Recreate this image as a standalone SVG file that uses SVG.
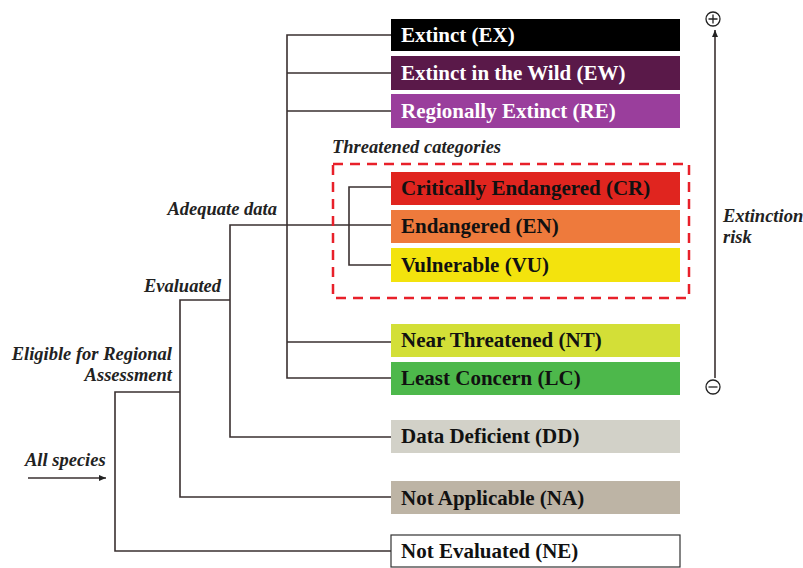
<svg xmlns="http://www.w3.org/2000/svg" width="803" height="568" viewBox="0 0 803 568">
<defs>
<style>
.lbl{font-family:"Liberation Serif",serif;font-weight:bold;font-size:21px}
.w{fill:#ffffff}
.k{fill:#111111}
.it{font-family:"Liberation Serif",serif;font-weight:bold;font-style:italic;font-size:18.5px;fill:#222}
.ln{stroke:#3a3030;stroke-width:1.6;fill:none}
</style>
<marker id="ah" markerWidth="8" markerHeight="8" refX="7" refY="4" orient="auto" markerUnits="userSpaceOnUse">
<path d="M0,1 L7,4 L0,7 z" fill="#222"/>
</marker>
</defs>
<rect width="803" height="568" fill="#ffffff"/>
<g id="connectors">
<path class="ln" d="M28,478 L106,478" marker-end="url(#ah)"/>
<path class="ln" d="M391,551 H115 V392 H180"/>
<path class="ln" d="M391,497 H180 V300 H230"/>
<path class="ln" d="M391,437 H230 V225 H391"/>
<path class="ln" d="M391,35 H287 V378 H391"/>
<path class="ln" d="M287,73 H391 M287,111 H391 M287,342 H391"/>
<path class="ln" d="M391,187 H349 V265 H391"/>
<path class="ln" d="M715,378 V30" marker-end="url(#ah)"/>
</g>
<g id="threatened-group">
<rect x="333" y="164" width="356" height="134" fill="none" stroke="#e8202a" stroke-width="2.5" stroke-dasharray="10,7"/>
<text class="it" x="332" y="153">Threatened categories</text>
</g>
<g id="EX"><rect x="391" y="19" width="289" height="32" fill="#000000"/><text class="lbl w" x="401" y="42">Extinct (EX)</text></g>
<g id="EW"><rect x="391" y="56" width="289" height="34" fill="#5a1949"/><text class="lbl w" x="401" y="80">Extinct in the Wild (EW)</text></g>
<g id="RE"><rect x="391" y="94" width="289" height="34" fill="#9a3e9c"/><text class="lbl w" x="401" y="118">Regionally Extinct (RE)</text></g>
<g id="CR"><rect x="391" y="172" width="289" height="33" fill="#e0251f"/><text class="lbl k" x="401" y="195">Critically Endangered (CR)</text></g>
<g id="EN"><rect x="391" y="210" width="289" height="33" fill="#ee7a3c"/><text class="lbl k" x="401" y="233">Endangered (EN)</text></g>
<g id="VU"><rect x="391" y="248" width="289" height="34" fill="#f3e30d"/><text class="lbl k" x="401" y="272">Vulnerable (VU)</text></g>
<g id="NT"><rect x="391" y="324" width="289" height="33" fill="#d3df37"/><text class="lbl k" x="401" y="347">Near Threatened (NT)</text></g>
<g id="LC"><rect x="391" y="362" width="289" height="33" fill="#4db84b"/><text class="lbl k" x="401" y="385">Least Concern (LC)</text></g>
<g id="DD"><rect x="391" y="420" width="289" height="33" fill="#d2d1c8"/><text class="lbl k" x="401" y="443">Data Deficient (DD)</text></g>
<g id="NA"><rect x="391" y="481" width="289" height="33" fill="#bdb4a5"/><text class="lbl k" x="401" y="505">Not Applicable (NA)</text></g>
<g id="NE"><rect x="391" y="535" width="289" height="32" fill="#ffffff" stroke="#333" stroke-width="1.2"/><text class="lbl k" x="401" y="558">Not Evaluated (NE)</text></g>
<g id="labels">
<text class="it" x="277" y="215" text-anchor="end">Adequate data</text>
<text class="it" x="221" y="292" text-anchor="end">Evaluated</text>
<text class="it" x="172" y="360" text-anchor="end">Eligible for Regional</text>
<text class="it" x="172" y="381" text-anchor="end">Assessment</text>
<text class="it" x="25" y="466">All species</text>
</g>
<g id="risk">
<circle cx="713" cy="19" r="7" fill="none" stroke="#222" stroke-width="1.3"/>
<path d="M708.5,19 H717.5 M713,14.5 V23.5" stroke="#222" stroke-width="1.3"/>
<circle cx="713" cy="387" r="7" fill="none" stroke="#222" stroke-width="1.3"/>
<path d="M708.5,387 H717.5" stroke="#222" stroke-width="1.3"/>
<text class="it" x="723" y="222">Extinction</text>
<text class="it" x="723" y="243">risk</text>
</g>
</svg>
